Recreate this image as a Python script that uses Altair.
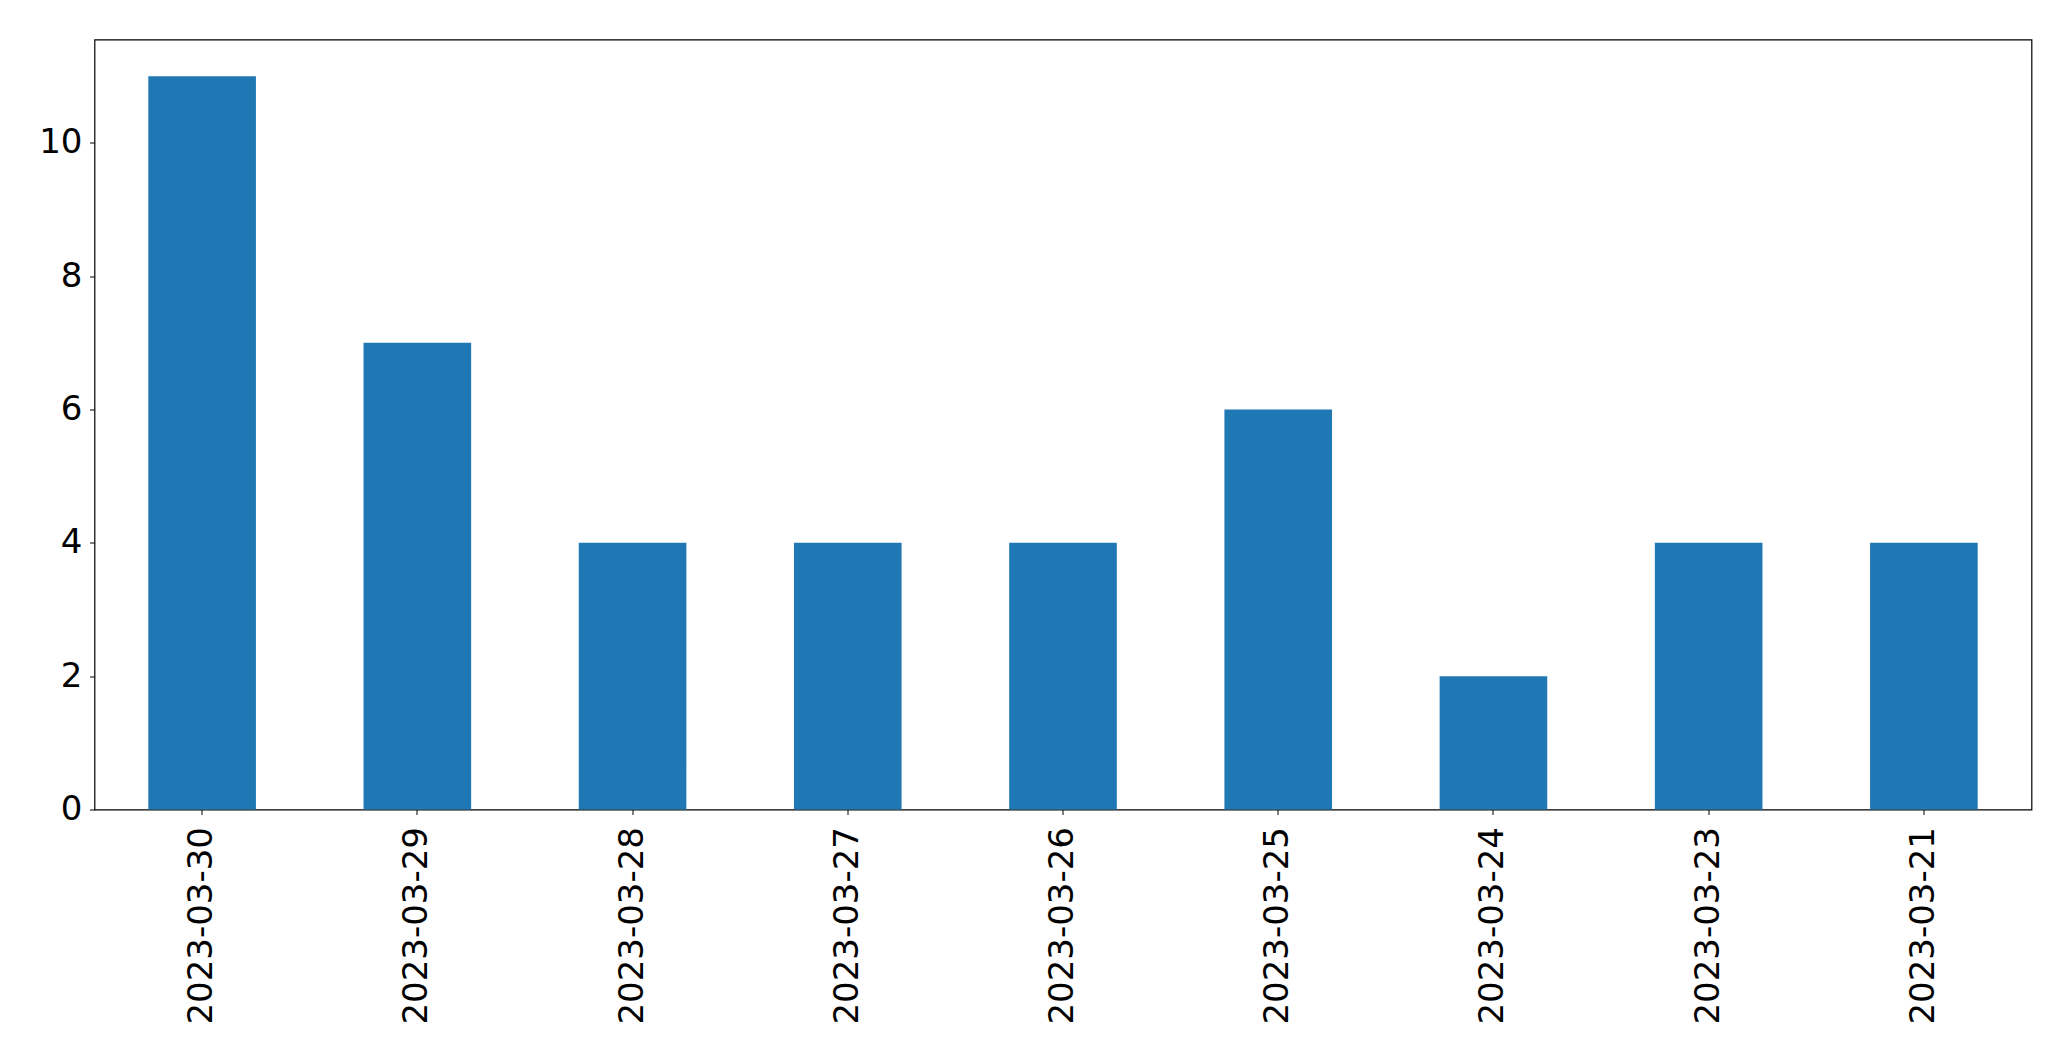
import altair as alt
import pandas as pd

dates = ["2023-03-30", "2023-03-29", "2023-03-28", "2023-03-27", "2023-03-26",
         "2023-03-25", "2023-03-24", "2023-03-23", "2023-03-21"]
counts = [11, 7, 4, 4, 4, 6, 2, 4, 4]

df = pd.DataFrame({"date": dates, "count": counts})

chart = alt.Chart(df).mark_bar(color="#1f77b4").encode(
    x=alt.X("date:N", sort=None, title=None,
            scale=alt.Scale(paddingInner=0.5, paddingOuter=0.25),
            axis=alt.Axis(labelAngle=-90, labelFontSize=34, labelFont="DejaVu Sans",
                          labelColor="black", tickColor="black", tickSize=5,
                          labelPadding=12, labelLimit=500, domain=False, grid=False)),
    y=alt.Y("count:Q", title=None,
            scale=alt.Scale(domain=[0, 11.55], nice=False, zero=True),
            axis=alt.Axis(values=[0, 2, 4, 6, 8, 10], labelFontSize=34,
                          labelFont="DejaVu Sans", labelColor="black",
                          tickColor="black", tickSize=5, labelPadding=7.5,
                          domain=False, grid=False)),
).properties(
    width=1937, height=770,
    autosize=alt.AutoSizeParams(type="none"),
    padding={"left": 86.5, "top": 31.5, "right": 30, "bottom": 240},
).configure_view(stroke="black", strokeWidth=1.2)

chart.save("out.html", embed_options={"renderer": "svg", "actions": False})
